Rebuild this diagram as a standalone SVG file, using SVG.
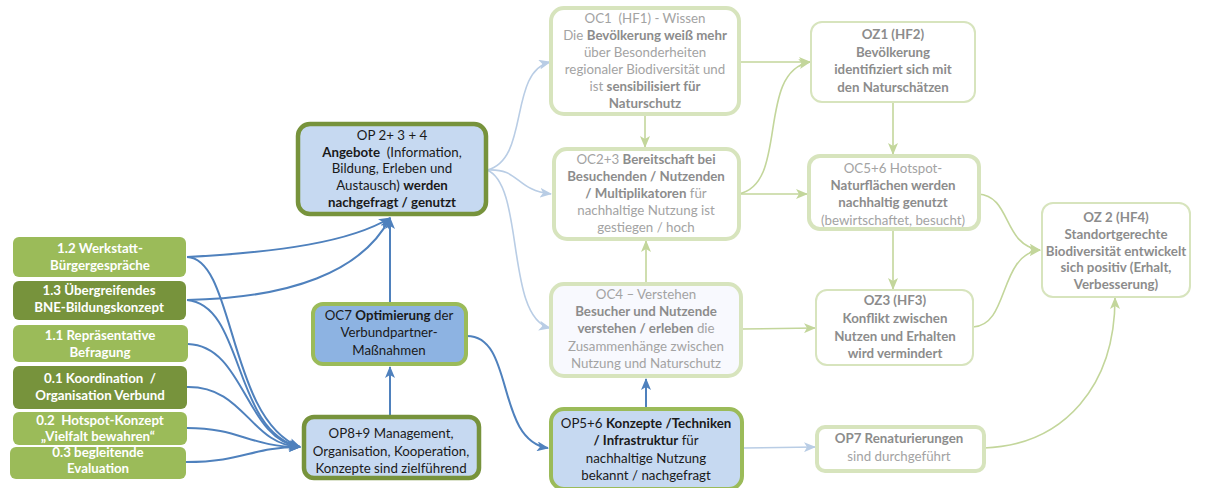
<svg xmlns="http://www.w3.org/2000/svg" width="1205" height="488" viewBox="0 0 1205 488">
<defs>
<style>
text{font-family:Lato,"Noto Sans","Liberation Sans",sans-serif;font-size:13.3px;text-anchor:middle;white-space:pre}
.w{fill:#fff;font-weight:bold}
.k{fill:#1a1a1a}
.g{fill:#a3a3a3}
.gb{fill:#8c8c8c;font-weight:bold}
.b{font-weight:bold}
.lg{fill:#9bbb59}
.dg{fill:#77933c}
.pb{fill:#c6d9f1}
.mb{fill:#8db3e2}
.fade{fill:#fff;stroke:#d7e4bd}
.cb{fill:none;stroke:#4f81bd;stroke-width:2}
.cl{fill:none;stroke:#b9cde5;stroke-width:1.6}
.cg{fill:none;stroke:#c3d69b;stroke-width:1.6}
</style>
<marker id="ab" viewBox="0 0 12 10" refX="11" refY="5" markerWidth="12" markerHeight="10" markerUnits="userSpaceOnUse" orient="auto"><path d="M0,0 L12,5 L0,10 L3,5 z" fill="#4f81bd"/></marker>
<marker id="al" viewBox="0 0 12 10" refX="11" refY="5" markerWidth="12" markerHeight="10" markerUnits="userSpaceOnUse" orient="auto"><path d="M0,0 L12,5 L0,10 L3,5 z" fill="#b9cde5"/></marker>
<marker id="ag" viewBox="0 0 12 10" refX="11" refY="5" markerWidth="12" markerHeight="10" markerUnits="userSpaceOnUse" orient="auto"><path d="M0,0 L12,5 L0,10 L3,5 z" fill="#c3d69b"/></marker>
</defs>
<rect width="1205" height="488" fill="#fff"/>

<g id="connectors">
<path class="cb" marker-end="url(#ab)" d="M187,257 C280,252 350,242 390,218"/>
<path class="cb" marker-end="url(#ab)" d="M187,300 C290,298 362,272 390,218"/>
<path class="cb" marker-end="url(#ab)" d="M187,257 C235,258 228,420 300,447"/>
<path class="cb" marker-end="url(#ab)" d="M187,300 C245,305 232,432 300,447"/>
<path class="cb" marker-end="url(#ab)" d="M188,344 C245,346 245,440 300,447"/>
<path class="cb" marker-end="url(#ab)" d="M187,387 C245,386 250,445 300,447"/>
<path class="cb" marker-end="url(#ab)" d="M187,428 C240,428 250,447 300,447"/>
<path class="cb" marker-end="url(#ab)" d="M186,462 C245,462 250,447 300,447"/>
<path class="cb" marker-end="url(#ab)" d="M390,416 L390,367"/>
<path class="cb" marker-end="url(#ab)" d="M390,303 L390,218"/>
<path class="cb" marker-end="url(#ab)" d="M467,336 C515,336 495,440 548,448"/>
<path class="cb" marker-end="url(#ab)" d="M646,408 L646,379"/>
<path class="cl" marker-end="url(#al)" d="M743,448 L815,447"/>
<path class="cl" marker-end="url(#al)" d="M487,170 C530,160 508,72 550,62"/>
<path class="cl" marker-end="url(#al)" d="M487,170 C520,168 515,190 551,194"/>
<path class="cl" marker-end="url(#al)" d="M487,170 C525,185 505,318 550,328"/>
<path class="cg" marker-end="url(#ag)" d="M645,115 L645,147"/>
<path class="cg" marker-end="url(#ag)" d="M646,283 L646,241"/>
<path class="cg" marker-end="url(#ag)" d="M740,62 L810,62"/>
<path class="cg" marker-end="url(#ag)" d="M738,194 C790,185 755,72 810,62"/>
<path class="cg" marker-end="url(#ag)" d="M740,194 L807,194"/>
<path class="cg" marker-end="url(#ag)" d="M742,329 L815,328"/>
<path class="cg" marker-end="url(#ag)" d="M893,102 L893,154"/>
<path class="cg" marker-end="url(#ag)" d="M893,230 L893,289"/>
<path class="cg" marker-end="url(#ag)" d="M978,194 C1012,196 1002,245 1040,250"/>
<path class="cg" marker-end="url(#ag)" d="M973,327 C1010,325 998,255 1040,250"/>
<path class="cg" marker-end="url(#ag)" d="M984,448 C1065,445 1115,385 1115,298"/>
</g>

<g id="n12"><rect class="lg" x="13" y="237" width="173" height="40" rx="6"/><text class="w" x="100" y="253">1.2 Werkstatt-</text><text class="w" x="100" y="270">Bürgergespräche</text></g>
<g id="n13"><rect class="dg" x="13" y="281" width="173" height="39" rx="6"/><text class="w" x="99" y="295">1.3 Übergreifendes</text><text class="w" x="99" y="312">BNE-Bildungskonzept</text></g>
<g id="n11"><rect class="lg" x="13" y="325" width="175" height="37" rx="6"/><text class="w" x="100" y="340">1.1 Repräsentative</text><text class="w" x="100" y="357">Befragung</text></g>
<g id="n01"><rect class="dg" x="13" y="366" width="174" height="43" rx="6"/><text class="w" x="100" y="383">0.1 Koordination  /</text><text class="w" x="100" y="400">Organisation Verbund</text></g>
<g id="n02"><rect class="lg" x="13" y="412" width="174" height="33" rx="6"/><text class="w" x="100" y="425">0.2  Hotspot-Konzept</text><text class="w" x="98" y="441">„Vielfalt bewahren“</text></g>
<g id="n03"><rect class="lg" x="10" y="447" width="176" height="32" rx="6"/><text class="w" x="98" y="457">0.3 begleitende</text><text class="w" x="98" y="473">Evaluation</text></g>

<g id="op234"><rect class="pb" x="298" y="124" width="188" height="90" rx="12" stroke="#77933c" stroke-width="4.5"/>
<text class="k" x="392" y="140">OP 2+ 3 + 4</text>
<text class="k" x="392" y="157"><tspan class="b">Angebote</tspan>  (Information,</text>
<text class="k" x="392" y="173">Bildung, Erleben und</text>
<text class="k" x="392" y="190">Austausch) <tspan class="b">werden</tspan></text>
<text class="k b" x="392" y="207">nachgefragt / genutzt</text></g>

<g id="oc7"><rect class="mb" x="313" y="304" width="153" height="60" rx="10" stroke="#9bbb59" stroke-width="4"/>
<text class="k" x="389" y="320">OC7 <tspan class="b">Optimierung</tspan> der</text>
<text class="k" x="389" y="337">Verbundpartner-</text>
<text class="k" x="389" y="355">Maßnahmen</text></g>

<g id="op89"><rect class="pb" x="304" y="417" width="175" height="61" rx="10" stroke="#77933c" stroke-width="4.5"/>
<text class="k" x="391" y="438">OP8+9 Management,</text>
<text class="k" x="391" y="456">Organisation, Kooperation,</text>
<text class="k" x="391" y="473">Konzepte sind zielführend</text></g>

<g id="oc1"><rect class="fade" x="551" y="8" width="188" height="106" rx="13" stroke-width="4"/>
<text class="g" x="645" y="23">OC1  (HF1) - Wissen</text>
<text class="g" x="645" y="40">Die <tspan class="gb">Bevölkerung weiß mehr</tspan></text>
<text class="g" x="645" y="57">über Besonderheiten</text>
<text class="g" x="645" y="74">regionaler Biodiversität und</text>
<text class="g" x="645" y="91">ist <tspan class="gb">sensibilisiert für</tspan></text>
<text class="gb" x="645" y="108">Naturschutz</text></g>

<g id="oc23"><rect class="fade" x="554" y="149" width="185" height="90" rx="13" stroke-width="4"/>
<text class="g" x="646" y="164">OC2+3 <tspan class="gb">Bereitschaft bei</tspan></text>
<text class="gb" x="646" y="181">Besuchenden / Nutzenden</text>
<text class="g" x="646" y="198"><tspan class="gb">/ Multiplikatoren</tspan> für</text>
<text class="g" x="646" y="215">nachhaltige Nutzung ist</text>
<text class="g" x="646" y="232">gestiegen / hoch</text></g>

<g id="oc4"><rect x="551" y="284" width="190" height="92" rx="13" fill="#f8f9fe" stroke="#d7e4bd" stroke-width="4"/>
<text class="g" x="646" y="299">OC4 – Verstehen</text>
<text class="gb" x="646" y="316">Besucher und Nutzende</text>
<text class="g" x="646" y="333"><tspan class="gb">verstehen / erleben</tspan> die</text>
<text class="g" x="646" y="351">Zusammenhänge zwischen</text>
<text class="g" x="646" y="368">Nutzung und Naturschutz</text></g>

<g id="op56"><rect class="pb" x="551" y="409" width="191" height="80" rx="13" stroke="#9bbb59" stroke-width="4"/>
<text class="k" x="646" y="428">OP5+6 <tspan class="b">Konzepte /Techniken</tspan></text>
<text class="k" x="646" y="445"><tspan class="b">/ Infrastruktur</tspan> für</text>
<text class="k" x="646" y="463">nachhaltige Nutzung</text>
<text class="k" x="646" y="480">bekannt / nachgefragt</text></g>

<g id="oz1"><rect class="fade" x="811" y="22" width="164" height="80" rx="11" stroke-width="2"/>
<text class="gb" x="893" y="39">OZ1 (HF2)</text>
<text class="gb" x="893" y="57">Bevölkerung</text>
<text class="gb" x="893" y="74">identifiziert sich mit</text>
<text class="gb" x="893" y="92">den Naturschätzen</text></g>

<g id="oc56"><rect class="fade" x="809" y="156" width="170" height="73" rx="11" stroke-width="4"/>
<text class="g" x="893" y="173">OC5+6 Hotspot-</text>
<text class="gb" x="893" y="190">Naturflächen werden</text>
<text class="gb" x="893" y="207">nachhaltig genutzt</text>
<text class="g" x="893" y="225">(bewirtschaftet, besucht)</text></g>

<g id="oz3"><rect class="fade" x="816" y="290" width="157" height="75" rx="11" stroke-width="2"/>
<text class="gb" x="895" y="305">OZ3 (HF3)</text>
<text class="gb" x="895" y="323">Konflikt zwischen</text>
<text class="gb" x="895" y="341">Nutzen und Erhalten</text>
<text class="gb" x="895" y="358">wird vermindert</text></g>

<g id="op7"><rect class="fade" x="817" y="427" width="167" height="44" rx="8" stroke-width="4"/>
<text class="g" x="899" y="443"><tspan class="gb">OP7 Renaturierungen</tspan></text>
<text class="g" x="899" y="461">sind durchgeführt</text></g>

<g id="oz2"><rect class="fade" x="1042" y="203" width="148" height="94" rx="11" stroke-width="2"/>
<text class="gb" x="1116" y="222">OZ 2 (HF4)</text>
<text class="gb" x="1116" y="239">Standortgerechte</text>
<text class="gb" x="1116" y="256">Biodiversität entwickelt</text>
<text class="gb" x="1116" y="272">sich positiv (Erhalt,</text>
<text class="gb" x="1116" y="289">Verbesserung)</text></g>
</svg>
